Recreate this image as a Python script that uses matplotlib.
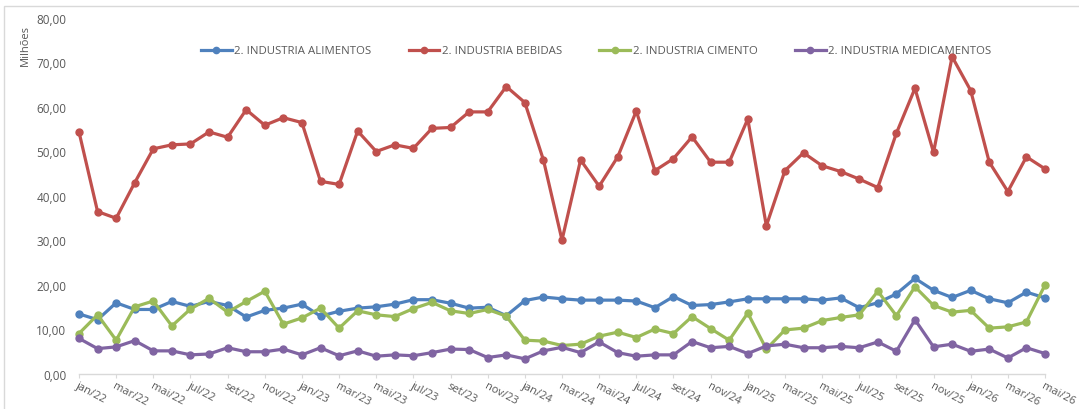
import numpy as np
import matplotlib
matplotlib.use("Agg")
import matplotlib.pyplot as plt
from matplotlib.patches import Rectangle

plt.rcParams["font.family"] = ["Open Sans", "DejaVu Sans"]

# ---------------------------------------------------------------------------
# Monthly series, jan/22 .. mai/26 (values in millions)
# ---------------------------------------------------------------------------
MESES = ["jan", "fev", "mar", "abr", "mai", "jun", "jul", "ago", "set", "out", "nov", "dez"]
months = [f"{m}/{y}" for y in range(22, 27) for m in MESES][:53]

alimentos = [13.5, 12.2, 16.0, 14.5, 14.5, 16.3, 15.2, 16.3, 15.4, 12.8, 14.3, 14.8,
             15.7, 13.0, 14.1, 14.8, 15.1, 15.7, 16.7, 16.7, 15.9, 14.8, 15.0, 13.1,
             16.5, 17.3, 16.9, 16.6, 16.6, 16.6, 16.4, 14.9, 17.4, 15.4, 15.6, 16.2,
             16.9, 16.9, 16.9, 16.9, 16.6, 17.1, 14.9, 16.0, 18.0, 21.5, 18.8, 17.2,
             18.8, 16.9, 16.0, 18.4, 17.1]
bebidas = [54.4, 36.5, 35.0, 43.0, 50.6, 51.5, 51.7, 54.4, 53.2, 59.4, 55.9, 57.6,
           56.5, 43.3, 42.6, 54.6, 50.0, 51.5, 50.7, 55.2, 55.4, 58.9, 58.9, 64.6,
           61.0, 48.1, 30.1, 48.1, 42.2, 48.8, 59.1, 45.7, 48.4, 53.3, 47.6, 47.6,
           57.3, 33.3, 45.7, 49.7, 46.8, 45.5, 43.8, 41.9, 54.1, 64.2, 49.8, 71.3,
           63.7, 47.6, 41.0, 48.8, 46.1]
cimento = [9.1, 13.3, 7.6, 15.1, 16.4, 10.8, 14.6, 17.0, 13.9, 16.3, 18.6, 11.2,
           12.6, 14.8, 10.3, 14.2, 13.3, 12.9, 14.7, 16.1, 14.2, 13.6, 14.5, 13.0,
           7.6, 7.4, 6.4, 6.7, 8.5, 9.4, 8.2, 10.1, 9.1, 12.9, 10.2, 7.6,
           13.7, 5.6, 9.9, 10.3, 12.0, 12.7, 13.3, 18.6, 13.1, 19.6, 15.4, 13.9,
           14.3, 10.3, 10.6, 11.7, 20.0]
medicamentos = [8.0, 5.7, 6.1, 7.5, 5.2, 5.2, 4.3, 4.5, 5.9, 5.0, 5.0, 5.6,
                4.3, 5.9, 4.1, 5.2, 4.0, 4.3, 4.1, 4.8, 5.6, 5.5, 3.7, 4.3,
                3.4, 5.2, 6.0, 4.8, 7.2, 4.8, 4.0, 4.3, 4.3, 7.3, 5.9, 6.2,
                4.6, 6.3, 6.7, 5.9, 5.9, 6.2, 5.9, 7.2, 5.1, 12.2, 6.1, 6.7,
                5.1, 5.6, 3.6, 5.9, 4.6]

series = [
    ("2. INDUSTRIA ALIMENTOS", alimentos, "#4F81BD"),
    ("2. INDUSTRIA BEBIDAS", bebidas, "#C0504D"),
    ("2. INDUSTRIA CIMENTO", cimento, "#9BBB59"),
    ("2. INDUSTRIA MEDICAMENTOS", medicamentos, "#8064A2"),
]

TEXT = "#595959"
AXIS = "#D9D9D9"

fig = plt.figure(figsize=(10.79, 4.10), dpi=100)
fig.patches.append(Rectangle((4 / 1079, -0.1), 1.2, (410 - 7) / 410 + 0.1,
                             transform=fig.transFigure, fill=False,
                             edgecolor="#D9D9D9", lw=1.0))
ax = fig.add_axes([79 / 1079, 35 / 410, (1045 - 79) / 1079, (375 - 19) / 410])

x = np.arange(len(months))
for name, vals, col in series:
    ax.plot(x, vals, color=col, lw=2.3, marker="o", ms=5, label=name,
            solid_joinstyle="round", clip_on=False)

ax.set_xlim(0, len(months) - 1)
ax.set_ylim(0, 80)
ax.set_yticks(np.arange(0, 81, 10))
ax.set_yticklabels([f"{v:.2f}".replace(".", ",") for v in np.arange(0, 81, 10)],
                   fontsize=8.5, color=TEXT)
ax.tick_params(axis="y", length=0, pad=9)

ax.set_xticks(x[::2])
ax.set_xticklabels(months[::2], rotation=-28, ha="left", va="top",
                   rotation_mode="anchor", fontsize=8, color=TEXT)
ax.tick_params(axis="x", length=3, color=AXIS, pad=1)
for lbl in ax.get_xticklabels():
    lbl.set_x(lbl.get_position()[0] - 0.2)

for side in ["top", "right", "left"]:
    ax.spines[side].set_visible(False)
ax.spines["bottom"].set_color(AXIS)
ax.spines["bottom"].set_linewidth(1.0)

fig.text(25 / 1079, 1 - 45 / 410, "Milhões", rotation=90, ha="center", va="center",
         fontsize=8, color=TEXT)

leg = ax.legend(loc="center", bbox_to_anchor=(596 / 1079, 1 - 52 / 410),
                bbox_transform=fig.transFigure, ncol=4, frameon=False,
                fontsize=8.2, handlelength=2.7, handletextpad=0.2,
                columnspacing=3.3, markerscale=0.9)
for t in leg.get_texts():
    t.set_color(TEXT)

fig.savefig("out.png", dpi=100, facecolor="white")
